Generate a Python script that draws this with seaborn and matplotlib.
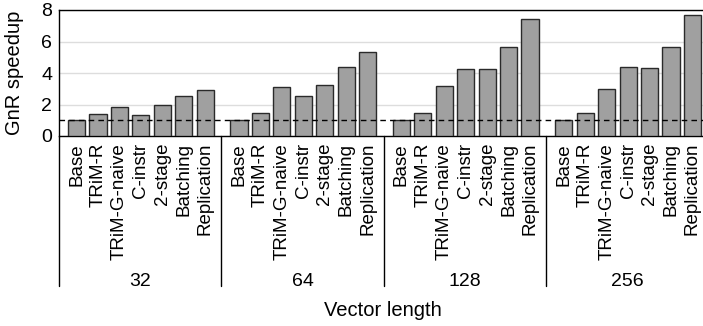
import numpy as np
import pandas as pd
import matplotlib
matplotlib.use("Agg")
import matplotlib.pyplot as plt
import matplotlib.transforms as mtransforms
import seaborn as sns

# ---- data ----
groups = ["32", "64", "128", "256"]
methods = ["Base", "TRiM-R", "TRiM-G-naive", "C-instr", "2-stage", "Batching", "Replication"]
speedup_32 = [1.02, 1.38, 1.83, 1.32, 1.96, 2.57, 2.94]
speedup_64 = [1.00, 1.45, 3.09, 2.57, 3.21, 4.36, 5.32]
speedup_128 = [1.00, 1.43, 3.15, 4.26, 4.23, 5.66, 7.43]
speedup_256 = [1.00, 1.43, 3.00, 4.36, 4.34, 5.66, 7.70]
y_ticks = [0, 2, 4, 6, 8]

sns.set_theme(style="white")
plt.rcParams["font.family"] = ["Liberation Sans", "DejaVu Sans"]
plt.rcParams["text.color"] = "black"
plt.rcParams["xtick.color"] = "black"
plt.rcParams["ytick.color"] = "black"
plt.rcParams["axes.labelcolor"] = "black"

G = 7.58      # group width in bar slots
OFF = 0.82    # first bar centre offset inside a group

rows = []
for gi, vals in enumerate([speedup_32, speedup_64, speedup_128, speedup_256]):
    for mi, v in enumerate(vals):
        rows.append({"group": groups[gi], "method": methods[mi],
                     "pos": gi * G + OFF + mi, "speedup": v})
df = pd.DataFrame(rows)

W, H = 703, 326
fig = plt.figure(figsize=(W / 100, H / 100), dpi=100)
left, top, bottom = 59, 10, 136
slot_px = 21.43
ax_w = 4 * G * slot_px
ax = fig.add_axes([left / W, 1 - bottom / H, ax_w / W, (bottom - top) / H])

sns.barplot(data=df, x="pos", y="speedup", native_scale=True, color="#a0a0a0",
            saturation=1, edgecolor="#2a2a2a", linewidth=1.0, width=0.8, ax=ax, zorder=3)

ax.set_xlim(0, 4 * G)
ax.set_ylim(0, 8)
ax.set_yticks(y_ticks)
ax.set_yticklabels([str(t) for t in y_ticks], fontsize=14, color="black")
ax.yaxis.grid(True, color="#dddddd", linewidth=1.0, zorder=0)
ax.set_axisbelow(True)
ax.axhline(1, color="black", linestyle=(0, (4, 3)), linewidth=1.0, zorder=4)

ax.set_xticks(df["pos"].to_numpy())
ax.set_xticklabels(df["method"].tolist(), rotation=90, fontsize=13.5, color="black")
ax.tick_params(axis="x", length=0, pad=5)
ax.tick_params(axis="y", length=0, pad=5)
ax.set_xlabel("")
ax.set_ylabel("")

for s in ["left", "top", "bottom", "right"]:
    ax.spines[s].set_color("black")
    ax.spines[s].set_linewidth(1.0)

# separators extending below the axis
trans = mtransforms.blended_transform_factory(ax.transData, ax.transAxes)
depth = -(286 - bottom) / (bottom - top)
for gi in range(5):
    ax.plot([gi * G, gi * G], [0, depth], color="black", linewidth=1.0,
            transform=trans, clip_on=False)

label_y = -(282 - bottom) / (bottom - top)
for gi, g in enumerate(groups):
    ax.text(gi * G + G / 2, label_y, g, transform=trans, ha="center", va="center",
            fontsize=14, color="black")

fig.text(383 / W, 1 - 311 / H, "Vector length", ha="center", va="center",
         fontsize=14.5, color="black")
fig.text(15 / W, 1 - 73 / H, "GnR speedup", ha="center", va="center",
         rotation=90, fontsize=14.5, color="black")

fig.savefig("out.png", dpi=100)
